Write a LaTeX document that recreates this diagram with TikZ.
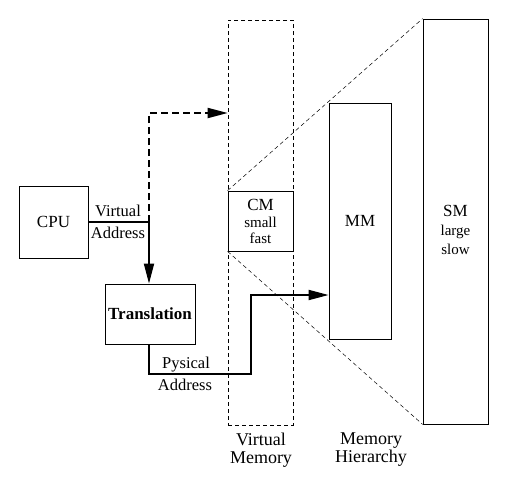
\documentclass[tikz,border=0pt]{standalone}
\usepackage{fontspec}
\setmainfont{Liberation Serif}
\usetikzlibrary{arrows.meta}

\newcommand\memsub{\fontsize{15}{15}\selectfont}

\tikzset{
  unitbox/.style={draw, line width=0.8pt, inner sep=0pt, align=center,
    font=\fontsize{17}{17}\selectfont},
  sig/.style={line width=1.8pt, -{Triangle[length=20pt,width=10pt]}},
  wire/.style={line width=1.8pt},
  lbl/.style={inner sep=0pt, anchor=base, font=\fontsize{16.5}{16.5}\selectfont},
  caption/.style={inner sep=0pt, align=center, anchor=north,
    font=\fontsize{18}{18}\selectfont}
}

\begin{document}
\begin{tikzpicture}[x=1pt,y=1pt,yscale=-1,xscale=1]
\useasboundingbox (0,0) rectangle (509,480);

% boxes on the left
\node[unitbox, minimum width=69, minimum height=72] (cpu) at (53.5,222) {CPU};
\node[unitbox, minimum width=90, minimum height=60, font=\fontsize{17}{17}\selectfont\bfseries] (tr) at (150,314) {Translation};

% virtual memory and the hierarchy
\node[draw, dashed, dash pattern=on 4pt off 3pt, line width=0.6pt,
  minimum width=65, minimum height=405, inner sep=0pt] (vm) at (260.5,222.5) {};
\node[unitbox, minimum width=65, minimum height=60] (cm) at (260.5,221) {CM\\[0pt]{\memsub small}\\[-1pt]{\memsub fast}};
\node[unitbox, minimum width=62, minimum height=236] (mm) at (360,221) {MM};
\node[unitbox, minimum width=65, minimum height=405] (sm) at (455.5,221.5) {};
\node[inner sep=0pt, align=center, font=\fontsize{17}{17}\selectfont] (smtext) at (455.5,230) {SM\\[2pt]{\memsub large}\\[2pt]{\memsub slow}};

% projection lines
\draw[dashed, dash pattern=on 4pt off 3pt, line width=0.5pt] (cm.north west) -- (sm.north west);
\draw[dashed, dash pattern=on 4pt off 3pt, line width=0.5pt] (cm.south west) -- (sm.south west);

% address paths
\coordinate (va) at (149,222);
\coordinate (vtop) at (149,113);
\coordinate (plow) at (251,374);
\coordinate (phigh) at (251,295);
\draw[wire] (cpu.east) -- (va);
\draw[sig] (va) -- (tr.north -| va);
\draw[sig, dash pattern=on 7pt off 4pt] (va) -- (vtop) -- (vm.west |- vtop);
\draw[sig] (tr.south -| va) |- (plow) -- (phigh) -- (mm.west |- phigh);

% labels
\node[lbl] (vlabel) at (118,216) {Virtual};
\node[lbl] (valabel) at (118,238) {Address};
\node[lbl] (plabel) at (186,368) {Pysical};
\node[lbl] (palabel) at (185,390) {Address};
\node[caption] (vmcap) at (261,433) {Virtual\\Memory};
\node[caption] (mhcap) at (371,433) {Memory\\Hierarchy};

\end{tikzpicture}
\end{document}
